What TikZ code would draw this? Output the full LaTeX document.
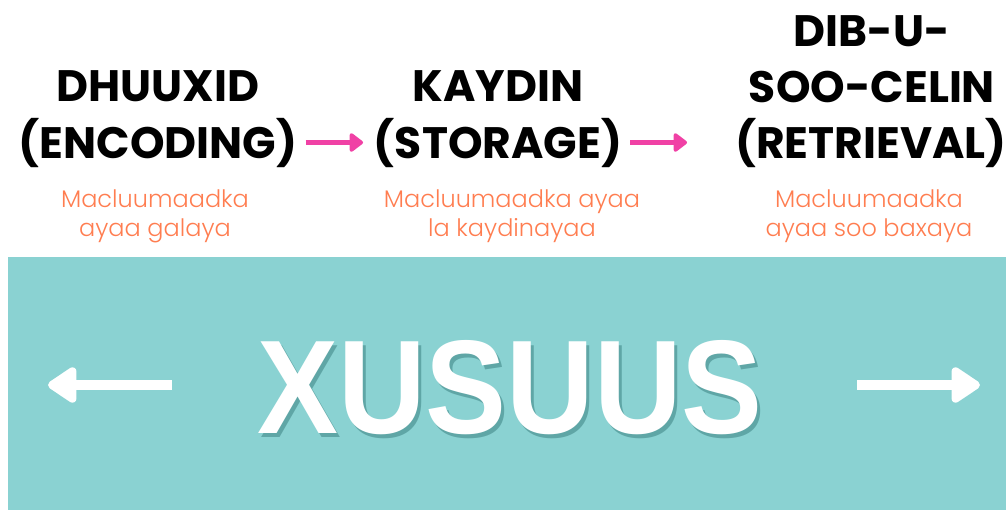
\documentclass[tikz,border=0pt]{standalone}
\usepackage{fontspec}
\usetikzlibrary{arrows.meta}
\newfontfamily\hdfont{Poppins}
\newfontfamily\subfont{Poppins Light}
\newfontfamily\bigfont{Liberation Sans}
\definecolor{teal1}{RGB}{138,210,210}
\definecolor{tealshadow}{RGB}{60,130,130}
\definecolor{subcol}{RGB}{255,125,80}
\definecolor{pinkarr}{RGB}{240,65,165}
\begin{document}
\begin{tikzpicture}[x=0.75pt,y=-0.75pt,
 head/.style={font=\hdfont\bfseries\fontsize{33}{42}\selectfont, inner sep=0pt, anchor=base},
 sub/.style={font=\subfont\fontsize{18}{21.5}\selectfont, text=subcol, inner sep=0pt, align=center, anchor=base},
 flow/.style={draw=pinkarr, line width=3.75pt, -{Triangle[length=11pt,width=16pt,round]}},
 warrow/.style={draw=white, line width=7.5pt, -{Triangle[length=24pt,width=30pt,round]}},
 big/.style={font=\bigfont\bfseries\fontsize{100}{100}\selectfont, xscale=0.91, anchor=base, inner sep=0pt}
]
\useasboundingbox (0,0) rectangle (1006,510);
\fill[teal1] (8,257) rectangle (1006,510);

% headings
\node[head] (encA) at (158,102) {DHUUXID};
\node[head] (encB) at (158,158) {(ENCODING)};
\node[head] (stoA) at (498,102) {KAYDIN};
\node[head] (stoB) at (498,158) {(STORAGE)};
\node[head] (retA) at (872,47) {DIB-U-};
\node[head] (retB) at (872,103) {SOO-CELIN};
\node[head] (retC) at (871,158) {(RETRIEVAL)};

% subtitles (base anchor = last line)
\node[sub] (encS) at (155,236) {Macluumaadka\\ayaa galaya};
\node[sub] (stoS) at (512,236) {Macluumaadka ayaa\\la kaydinayaa};
\node[sub] (retS) at (869,236) {Macluumaadka\\ayaa soo baxaya};

% flow arrows
\draw[flow, shorten <=6pt, shorten >=8pt] (encB.east) -- (stoB.west);
\draw[flow, shorten <=6pt, shorten >=36pt] (stoB.east) -- (retC.west);

% big word
\node[big, text=tealshadow, opacity=0.55] (memshadow) at (513,437) {XUSUUS};
\node[big, text=white] (mem) at (510,433) {XUSUUS};

% white arrows
\coordinate (lstart) at (172,385);
\coordinate (ltip) at (48,385);
\coordinate (rstart) at (857,385);
\coordinate (rtip) at (980,385);
\draw[warrow] (lstart) -- (ltip);
\draw[warrow] (rstart) -- (rtip);
\end{tikzpicture}
\end{document}
